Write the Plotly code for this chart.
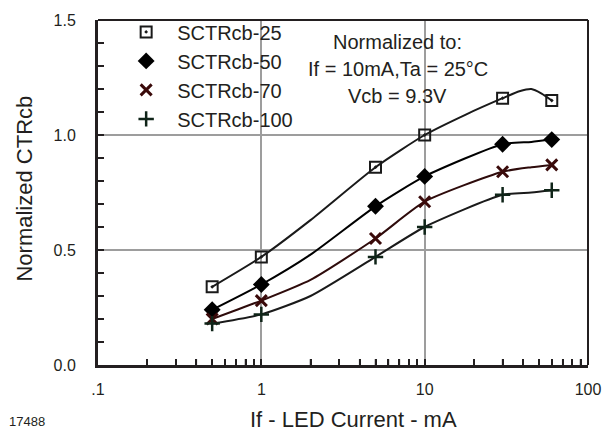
import plotly.graph_objects as go

# ---- data ----
if_ma = [0.5, 1, 5, 10, 30, 60]
ctr_25 = [0.34, 0.47, 0.86, 1.00, 1.16, 1.15]
ctr_50 = [0.24, 0.35, 0.69, 0.82, 0.96, 0.98]
ctr_70 = [0.20, 0.28, 0.55, 0.71, 0.84, 0.87]
ctr_100 = [0.18, 0.22, 0.47, 0.60, 0.74, 0.76]

# measured curve traced between the marked points
curve25_x = [0.5, 1, 2, 5, 10, 18, 30, 38, 45, 52, 60]
curve25_y = [0.34, 0.47, 0.63, 0.86, 1.00, 1.09, 1.16, 1.19, 1.20, 1.18, 1.15]
curve50_x = [0.5, 1, 2, 5, 10, 30, 45, 60]
curve50_y = [0.24, 0.35, 0.48, 0.69, 0.82, 0.96, 0.97, 0.98]
curve70_x = [0.5, 1, 2, 5, 10, 30, 45, 60]
curve70_y = [0.20, 0.28, 0.37, 0.55, 0.71, 0.84, 0.86, 0.87]
curve100_x = [0.5, 1, 2, 5, 10, 30, 45, 60]
curve100_y = [0.18, 0.22, 0.30, 0.47, 0.60, 0.74, 0.75, 0.76]

x_tickvals = [0.1, 1, 10, 100]
x_ticktext = [".1", "1", "10", "100"]
x_minor_vals = [m * d for d in (0.1, 1, 10) for m in range(2, 10)]
y_minor_vals = [round(0.1 * i, 1) for i in range(1, 15)]

series_names = ["SCTRcb-25", "SCTRcb-50", "SCTRcb-70", "SCTRcb-100"]
note_lines = ["Normalized to:", "If = 10mA,Ta = 25°C", "Vcb = 9.3V"]

FONT = "Liberation Sans, Arial, Helvetica, sans-serif"
INK = "#231f20"

fig = go.Figure()

line_specs = [
    (curve25_x, curve25_y, "#1a1a1a"),
    (curve50_x, curve50_y, "#000000"),
    (curve70_x, curve70_y, "#2e0b0b"),
    (curve100_x, curve100_y, "#1a1a1a"),
]
for cx, cy, col in line_specs:
    fig.add_trace(go.Scatter(x=cx, y=cy, mode="lines", showlegend=False,
                             line=dict(color=col, width=2, shape="spline", smoothing=0.6),
                             hoverinfo="skip"))

marker_specs = [
    (ctr_25, dict(symbol="square-open-dot", size=11, color="#1a1a1a", line=dict(width=2, color="#1a1a1a"))),
    (ctr_50, dict(symbol="diamond", size=13, color="#000000", line=dict(width=0))),
    (ctr_70, dict(symbol="x-thin", size=11, color="#3a0a0a", line=dict(width=3, color="#3a0a0a"))),
    (ctr_100, dict(symbol="cross-thin", size=11, color="#0f2418", line=dict(width=2.5, color="#0f2418"))),
]
for name, (vals, mk) in zip(series_names, marker_specs):
    fig.add_trace(go.Scatter(x=if_ma, y=vals, mode="markers", name=name, marker=mk))

# inside minor tick marks (drawn as segments at the axis tick values)
y_span, x_decades = 1.5, 3.0
tick_dy = 6 / 351 * y_span
tick_fx = 10 ** (6 / 490 * x_decades)
tx, ty = [], []
for v in x_minor_vals:
    tx += [v, v, None]
    ty += [0, tick_dy, None]
for v in y_minor_vals:
    tx += [0.1, 0.1 * tick_fx, None]
    ty += [v, v, None]
fig.add_trace(go.Scatter(x=tx, y=ty, mode="lines", showlegend=False, hoverinfo="skip",
                         line=dict(color=INK, width=1.5), cliponaxis=False))

fig.update_layout(
    template="none",
    width=604, height=434,
    margin=dict(l=98, r=16, t=14, b=69),
    paper_bgcolor="white", plot_bgcolor="white",
    font=dict(family=FONT, color=INK, size=16),
    legend=dict(x=0.035, y=1.022, xanchor="left", yanchor="top",
                bgcolor="rgba(0,0,0,0)", font=dict(size=20, family=FONT),
                itemwidth=52, tracegroupgap=0),
    showlegend=True,
)

fig.update_xaxes(
    type="log", range=[-1, 2],
    tickmode="array", tickvals=x_tickvals, ticktext=x_ticktext,
    showgrid=True, gridcolor="#9d9d9d", gridwidth=2,
    showline=True, linecolor=INK, linewidth=3,
    ticks="inside", ticklen=6, tickwidth=1.5, tickcolor=INK,
    ticklabelstandoff=8,
    tickfont=dict(size=16),
    minor=dict(ticks="inside", ticklen=6, tickwidth=1.5, tickcolor=INK,
               tickmode="array", tickvals=x_minor_vals, showgrid=False),
    zeroline=False,
)
fig.update_yaxes(
    range=[0, 1.5],
    tickmode="linear", tick0=0, dtick=0.5, tickformat=".1f",
    showgrid=True, gridcolor="#9d9d9d", gridwidth=2,
    showline=True, linecolor=INK, linewidth=3,
    ticks="inside", ticklen=6, tickwidth=1.5, tickcolor=INK,
    ticklabelstandoff=16,
    tickfont=dict(size=16),
    minor=dict(ticks="inside", ticklen=6, tickwidth=1.5, tickcolor=INK,
               tick0=0, dtick=0.1, showgrid=False),
    zeroline=False,
)

# top / right frame
fig.add_shape(type="line", xref="paper", yref="paper", x0=0, x1=1, y0=1, y1=1,
              line=dict(color=INK, width=2))
fig.add_shape(type="line", xref="paper", yref="paper", x0=1, x1=1, y0=0, y1=1,
              line=dict(color=INK, width=2))

fig.add_annotation(xref="paper", yref="paper", x=0.522, y=-0.157,
                   text="If - LED Current - mA", showarrow=False,
                   font=dict(size=22, family=FONT), xanchor="center", yanchor="middle")
fig.add_annotation(xref="paper", yref="paper", x=-0.15, y=0.51,
                   text="Normalized CTRcb", showarrow=False, textangle=-90,
                   font=dict(size=22, family=FONT), xanchor="center", yanchor="middle")
for line_txt, ypix in zip(note_lines, [36, 64, 91]):
    fig.add_annotation(xref="paper", yref="paper", x=0.612, y=(365 - ypix) / 351,
                       text=line_txt, showarrow=False,
                       font=dict(size=20, family=FONT), xanchor="center", yanchor="middle")
fig.add_annotation(xref="paper", yref="paper", x=-0.145, y=-0.165,
                   text="17488", showarrow=False,
                   font=dict(size=13, family=FONT), xanchor="center", yanchor="middle")

fig.write_html("out.html")
